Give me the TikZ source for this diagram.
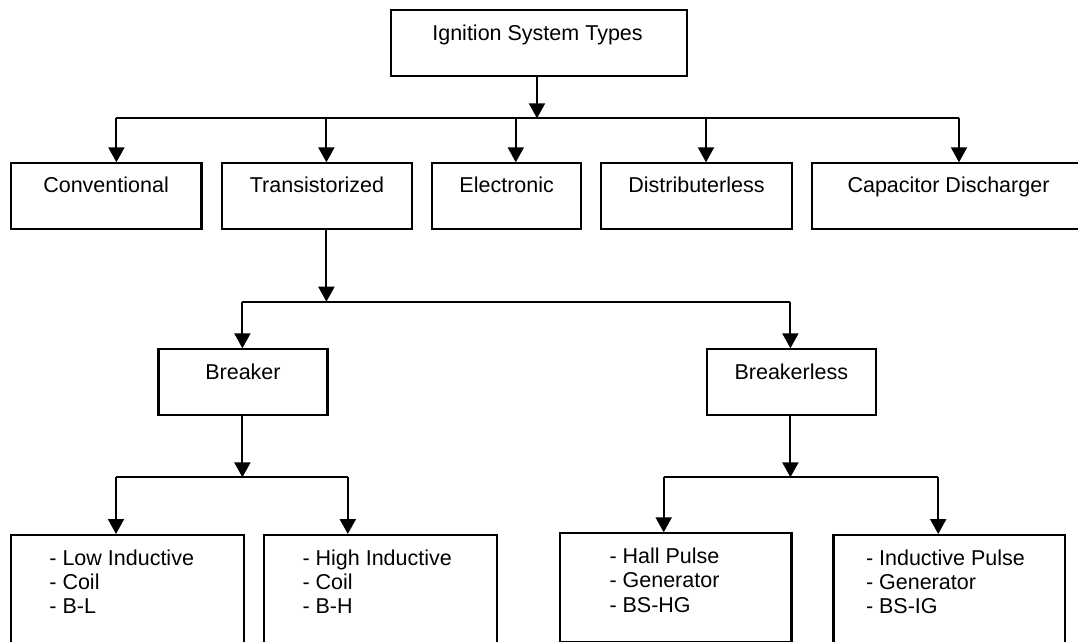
\documentclass[tikz,border=0pt]{standalone}
\usepackage{fontspec}
\setmainfont{Liberation Sans}
\usetikzlibrary{arrows.meta}
\tikzset{
  box/.style={draw, line width=2.1pt, inner sep=0pt, anchor=north west},
  lbl/.style={font=\fontsize{21.5}{24.2}\selectfont, inner sep=0pt, anchor=base},
  items/.style={font=\fontsize{21.5}{24.2}\selectfont, inner sep=0pt, align=left, anchor=north west},
  arr/.style={-{Triangle[width=16pt,length=15pt]}, line width=2.1pt},
  bus/.style={line width=2.1pt}
}
\begin{document}
\begin{tikzpicture}[x=1pt,y=-1pt]
\useasboundingbox (0,0) rectangle (1078,641);
\clip (0,0) rectangle (1078,641);
% boxes
\node[box, minimum width=296pt, minimum height=66pt] (top) at (389.5,9.3) {};
\node[box, minimum width=190.8pt, minimum height=65.7pt] (conv) at (9.6,162.3) {};
\node[box, minimum width=190.5pt, minimum height=65.7pt] (trans) at (220.7,162.3) {};
\node[box, minimum width=149pt, minimum height=65.7pt] (elec) at (431.1,162.3) {};
\node[box, minimum width=190.8pt, minimum height=65.7pt] (dist) at (600,162.3) {};
\node[box, minimum width=275pt, minimum height=65.7pt] (cap) at (811.1,162.3) {};
\node[box, minimum width=169pt, minimum height=65.7pt] (brk) at (157.4,348.3) {};
\node[box, minimum width=169.1pt, minimum height=65.7pt] (brkl) at (705.7,348.3) {};
\node[box, minimum width=232.8pt, minimum height=130pt] (low) at (10,534) {};
\node[box, minimum width=233.3pt, minimum height=130pt] (high) at (262.7,534) {};
\node[box, minimum width=231.7pt, minimum height=108.3pt] (hall) at (558.7,532.3) {};
\node[box, minimum width=231.6pt, minimum height=130pt] (ind) at (832.4,534) {};
% labels
\node[lbl] (ttop) at (537.5,40.5) {Ignition System Types};
\node[lbl] (tconv) at (conv.center |- 0,192.3) {Conventional};
\node[lbl] (ttrans) at (trans.center |- 0,192.3) {Transistorized};
\node[lbl] (telec) at (elec.center |- 0,192.3) {Electronic};
\node[lbl] (tdist) at (dist.center |- 0,192.3) {Distributerless};
\node[lbl] (tcap) at (948.5,192.3) {Capacitor Discharger};
\node[lbl] (tbrk) at (brk.center |- 0,379.3) {Breaker};
\node[lbl] (tbrkl) at (brkl.center |- 0,379.3) {Breakerless};
\node[items] (tlow) at (49.2,549.6) {- Low Inductive\\- Coil\\- B-L};
\node[items] (thigh) at (302.3,549.6) {- High Inductive\\- Coil\\- B-H};
\node[items] (thall) at (609.3,547.9) {- Hall Pulse\\- Generator\\- BS-HG};
\node[items] (tind) at (865.8,549.6) {- Inductive Pulse\\- Generator\\- BS-IG};
% junction coordinates
\coordinate (j0) at (537,118.3);
\coordinate (c1) at (116.4,118.3);
\coordinate (c2) at (326.4,118.3);
\coordinate (c3) at (515.8,118.3);
\coordinate (c4) at (706,118.3);
\coordinate (c5) at (959,118.3);
\coordinate (j1) at (326.4,301.7);
\coordinate (d1) at (242.4,301.7);
\coordinate (d2) at (790.4,301.7);
\coordinate (j2) at (242.4,477.3);
\coordinate (e1) at (116,477.3);
\coordinate (e2) at (347.8,477.3);
\coordinate (j3) at (790.4,477.3);
\coordinate (f1) at (663.7,477.3);
\coordinate (f2) at (938.2,477.3);
% connectors
\draw[arr] (top.south -| j0) -- (j0);
\draw[bus] (c1) -- (c5);
\draw[arr] (c1) -- (c1 |- conv.north);
\draw[arr] (c2) -- (c2 |- trans.north);
\draw[arr] (c3) -- (c3 |- elec.north);
\draw[arr] (c4) -- (c4 |- dist.north);
\draw[arr] (c5) -- (c5 |- cap.north);
\draw[arr] (trans.south -| j1) -- (j1);
\draw[bus] (d1) -- (d2);
\draw[arr] (d1) -- (d1 |- brk.north);
\draw[arr] (d2) -- (d2 |- brkl.north);
\draw[arr] (brk.south -| j2) -- (j2);
\draw[bus] (e1) -- (e2);
\draw[arr] (e1) -- (e1 |- low.north);
\draw[arr] (e2) -- (e2 |- high.north);
\draw[arr] (brkl.south -| j3) -- (j3);
\draw[bus] (f1) -- (f2);
\draw[arr] (f1) -- (f1 |- hall.north);
\draw[arr] (f2) -- (f2 |- ind.north);
\end{tikzpicture}
\end{document}
